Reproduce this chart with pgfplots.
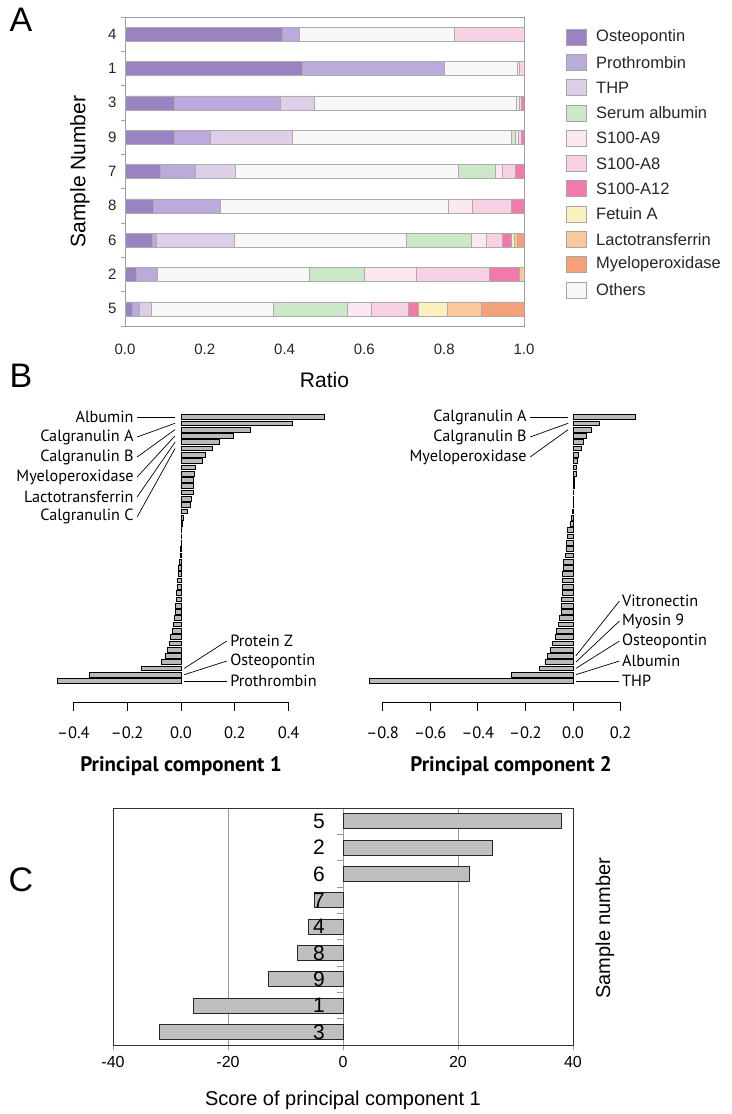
\documentclass[border=0pt]{standalone}
\usepackage{fontspec}
\setmainfont{Liberation Sans}
\newfontfamily\pts{PT Sans}
\usepackage{pgfplots}
\usepackage{pgfplotstable}
\pgfplotsset{compat=1.18}
\definecolor{cOst}{RGB}{155,130,192}
\definecolor{cPro}{RGB}{187,170,220}
\definecolor{cTHP}{RGB}{222,207,233}
\definecolor{cSA}{RGB}{205,232,200}
\definecolor{cA9}{RGB}{252,232,242}
\definecolor{cA8}{RGB}{248,210,228}
\definecolor{cA12}{RGB}{240,122,170}
\definecolor{cFet}{RGB}{251,240,190}
\definecolor{cLac}{RGB}{249,200,156}
\definecolor{cMPO}{RGB}{244,160,120}
\definecolor{cOth}{RGB}{248,248,248}

\pgfplotstableread{
y ost pro thp oth sa a9 a8 a12 fet lac mpo
0 0.017 0.019 0.031 0.304 0.186 0.061 0.092 0.025 0.072 0.086 0.107
1 0.028 0.054 0 0.381 0.136 0.130 0.185 0.073 0 0.013 0
2 0.068 0.011 0.195 0.430 0.164 0.038 0.040 0.022 0.007 0.007 0.018
3 0.071 0.167 0 0.572 0 0.061 0.097 0.032 0 0 0
4 0.088 0.089 0.100 0.558 0.093 0.018 0.031 0.023 0 0 0
5 0.124 0.089 0.207 0.547 0.010 0.008 0.008 0.007 0 0 0
6 0.124 0.264 0.086 0.507 0 0.006 0.007 0.006 0 0 0
7 0.445 0.355 0 0.182 0 0.005 0.013 0 0 0 0
8 0.394 0.043 0 0.389 0 0 0.174 0 0 0 0
}\dataA

\pgfplotstableread{
r pc1 pc2
1 0.533 0.263
2 0.413 0.111
3 0.258 0.076
4 0.196 0.057
5 0.144 0.043
6 0.118 0.036
7 0.091 0.022
8 0.080 0.018
9 0.054 0.015
10 0.048 0.015
11 0.046 0.006
12 0.045 0.004
13 0.045 0.003
14 0.039 0.002
15 0.035 0.001
16 0.023 -0.001
17 0.009 -0.006
18 0.005 -0.013
19 0.003 -0.024
20 0.002 -0.024
21 0.001 -0.027
22 -0.002 -0.030
23 -0.004 -0.032
24 -0.006 -0.041
25 -0.008 -0.042
26 -0.010 -0.043
27 -0.012 -0.043
28 -0.014 -0.045
29 -0.016 -0.046
30 -0.018 -0.047
31 -0.020 -0.048
32 -0.022 -0.050
33 -0.025 -0.057
34 -0.030 -0.062
35 -0.033 -0.068
36 -0.038 -0.076
37 -0.045 -0.085
38 -0.052 -0.095
39 -0.060 -0.109
40 -0.072 -0.118
41 -0.149 -0.142
42 -0.340 -0.259
43 -0.459 -0.857
}\dataB

\pgfplotstableread{
y s
0 -32
1 -26
2 -13
3 -8
4 -6
5 -5
6 22
7 26
8 38
}\dataC

\begin{document}
\begin{tikzpicture}
\useasboundingbox (0,0) rectangle (732bp,1114bp);

% ---------------- Panel A ----------------
\node[font=\fontsize{34bp}{36bp}\selectfont] at (21bp,1094bp) {A};
\begin{axis}[
  at={(125bp,788bp)}, anchor=south west, scale only axis,
  width=399bp, height=309bp,
  xbar stacked, bar width=14bp,
  xmin=0, xmax=1, ymin=-0.5, ymax=8.5,
  xtick={0,0.2,0.4,0.6,0.8,1},
  xticklabels={0.0,0.2,0.4,0.6,0.8,1.0},
  ytick={0,1,2,3,4,5,6,7,8},
  yticklabels={5,2,6,8,7,9,3,1,4},
  minor ytick={-0.5,0.5,1.5,2.5,3.5,4.5,5.5,6.5,7.5,8.5},
  major tick length=0pt, minor tick length=4bp,
  tick align=outside, xtick pos=bottom, ytick pos=left,
  axis line style={gray!75, line width=0.8bp},
  every minor tick/.style={gray!75, line width=0.8bp},
  ticklabel style={font=\fontsize{15bp}{17bp}\selectfont, text=black!85},
  xticklabel style={yshift=-15bp},
  yticklabel style={xshift=-5bp},
  xlabel={Ratio}, ylabel={Sample Number},
  label style={font=\fontsize{21bp}{24bp}\selectfont},
  x label style={at={(axis description cs:0.5,-0.175)}, anchor=center},
  y label style={at={(axis description cs:-0.113,0.5)}, anchor=center},
  every axis plot/.append style={draw=gray!65, line width=0.5bp},
]
\addplot[fill=cOst] table[x=ost,y=y]{\dataA};
\addplot[fill=cPro] table[x=pro,y=y]{\dataA};
\addplot[fill=cTHP] table[x=thp,y=y]{\dataA};
\addplot[fill=cOth] table[x=oth,y=y]{\dataA};
\addplot[fill=cSA] table[x=sa,y=y]{\dataA};
\addplot[fill=cA9] table[x=a9,y=y]{\dataA};
\addplot[fill=cA8] table[x=a8,y=y]{\dataA};
\addplot[fill=cA12] table[x=a12,y=y]{\dataA};
\addplot[fill=cFet] table[x=fet,y=y]{\dataA};
\addplot[fill=cLac] table[x=lac,y=y]{\dataA};
\addplot[fill=cMPO] table[x=mpo,y=y]{\dataA};
\end{axis}
% legend
\foreach \c/\t [count=\i from 0] in {cOst/Osteopontin,cPro/Prothrombin,cTHP/THP,cSA/Serum albumin,cA9/S100-A9,cA8/S100-A8,cA12/S100-A12,cFet/Fetuin A,cLac/Lactotransferrin,cMPO/Myeloperoxidase,cOth/Others}{
  \pgfmathsetmacro\yy{1077-25.3*\i}
  \draw[gray!70, line width=0.6bp, fill=\c] (566bp,\yy bp-8bp) rectangle ++(20bp,16bp);
  \node[anchor=west, inner sep=0pt, font=\fontsize{16.5bp}{18bp}\selectfont, text=black!85] at (596bp,\yy bp) {\t};
}

% ---------------- Panel B ----------------
\node[font=\fontsize{34bp}{36bp}\selectfont] at (21bp,738bp) {B};
\begin{axis}[
  at={(73.4bp,412bp)}, anchor=south west, scale only axis,
  width=215.2bp, height=285bp,
  xmin=-0.4, xmax=0.4, ymin=-2.34, ymax=43,
  axis x line=bottom, axis y line=none,
  axis line style={-, line width=0.8bp},
  xbar, bar width=4.6bp, clip=false,
  xtick={-0.4,-0.2,0,0.2,0.4},
  xticklabels={–0.4,–0.2,0.0,0.2,0.4},
  tick align=outside, major tick length=9bp,
  every tick/.style={black, line width=0.8bp},
  ticklabel style={font=\pts\fontsize{16.5bp}{18bp}\selectfont},
  xticklabel style={yshift=-12bp},
  xlabel={Principal component 1},
  x label style={font=\pts\bfseries\fontsize{21bp}{24bp}\selectfont, at={(axis description cs:0.5,-0.2246)}, anchor=center},
]
\addplot[fill=gray!55, draw=black, line width=0.7bp] table[x=pc1, y expr=44-\thisrow{r}]{\dataB};
\begin{scope}[line width=0.7bp, every node/.style={font=\pts\fontsize{16.2bp}{18bp}\selectfont, inner sep=0pt}]
\draw (axis cs:-0.163,43) -- (axis cs:-0.022,43);
\node[anchor=east] at (axis cs:-0.175,43) {Albumin};
\draw (axis cs:-0.163,39.82) -- (axis cs:-0.022,42);
\node[anchor=east] at (axis cs:-0.175,39.82) {Calgranulin A};
\draw (axis cs:-0.163,36.64) -- (axis cs:-0.022,41);
\node[anchor=east] at (axis cs:-0.175,36.64) {Calgranulin B};
\draw (axis cs:-0.163,33.46) -- (axis cs:-0.022,40);
\node[anchor=east] at (axis cs:-0.175,33.46) {Myeloperoxidase};
\draw (axis cs:-0.163,30.28) -- (axis cs:-0.022,39);
\node[anchor=east] at (axis cs:-0.175,30.28) {Lactotransferrin};
\draw (axis cs:-0.163,27.10) -- (axis cs:-0.022,38);
\node[anchor=east] at (axis cs:-0.175,27.10) {Calgranulin C};
\draw (axis cs:0.012,3) -- (axis cs:0.17,7.36);
\node[anchor=west] at (axis cs:0.182,7.36) {Protein Z};
\draw (axis cs:0.012,2) -- (axis cs:0.17,4.18);
\node[anchor=west] at (axis cs:0.182,4.18) {Osteopontin};
\draw (axis cs:0.012,1) -- (axis cs:0.17,1);
\node[anchor=west] at (axis cs:0.182,1) {Prothrombin};
\end{scope}
\end{axis}

\begin{axis}[
  at={(382.6bp,412bp)}, anchor=south west, scale only axis,
  width=238bp, height=285bp,
  xmin=-0.8, xmax=0.2, ymin=-2.34, ymax=43,
  axis x line=bottom, axis y line=none,
  axis line style={-, line width=0.8bp},
  xbar, bar width=4.6bp, clip=false,
  xtick={-0.8,-0.6,-0.4,-0.2,0,0.2},
  xticklabels={–0.8,–0.6,–0.4,–0.2,0.0,0.2},
  tick align=outside, major tick length=9bp,
  every tick/.style={black, line width=0.8bp},
  ticklabel style={font=\pts\fontsize{16.5bp}{18bp}\selectfont},
  xticklabel style={yshift=-12bp},
  xlabel={Principal component 2},
  x label style={font=\pts\bfseries\fontsize{21bp}{24bp}\selectfont, at={(axis description cs:0.54,-0.2246)}, anchor=center},
]
\addplot[fill=gray!55, draw=black, line width=0.7bp] table[x=pc2, y expr=44-\thisrow{r}]{\dataB};
\begin{scope}[line width=0.7bp, every node/.style={font=\pts\fontsize{16.2bp}{18bp}\selectfont, inner sep=0pt}]
\draw (axis cs:-0.18,43) -- (axis cs:-0.02,43);
\node[anchor=east] at (axis cs:-0.193,43) {Calgranulin A};
\draw (axis cs:-0.18,39.82) -- (axis cs:-0.02,42);
\node[anchor=east] at (axis cs:-0.193,39.82) {Calgranulin B};
\draw (axis cs:-0.18,36.64) -- (axis cs:-0.02,41);
\node[anchor=east] at (axis cs:-0.193,36.64) {Myeloperoxidase};
\draw (axis cs:0.012,5) -- (axis cs:0.195,13.72);
\node[anchor=west] at (axis cs:0.205,13.72) {Vitronectin};
\draw (axis cs:0.012,4) -- (axis cs:0.195,10.54);
\node[anchor=west] at (axis cs:0.205,10.54) {Myosin 9};
\draw (axis cs:0.012,3) -- (axis cs:0.195,7.36);
\node[anchor=west] at (axis cs:0.205,7.36) {Osteopontin};
\draw (axis cs:0.012,2) -- (axis cs:0.195,4.18);
\node[anchor=west] at (axis cs:0.205,4.18) {Albumin};
\draw (axis cs:0.012,1) -- (axis cs:0.195,1);
\node[anchor=west] at (axis cs:0.205,1) {THP};
\end{scope}
\end{axis}

% ---------------- Panel C ----------------
\node[font=\fontsize{34bp}{36bp}\selectfont] at (21bp,234bp) {C};
\begin{axis}[
  at={(113bp,69bp)}, anchor=south west, scale only axis,
  width=460bp, height=237bp,
  xbar, bar width=15bp,
  xmin=-40, xmax=40, ymin=-0.5, ymax=8.5,
  xtick={-40,-20,0,20,40},
  xticklabels={-40,-20,0,20,40},
  xmajorgrids, grid style={gray!80, line width=0.9bp},
  ytick=\empty,
  xtick pos=bottom, tick align=outside, major tick length=5bp,
  xtick style={gray!80, line width=0.9bp},
  axis line style={black!80, line width=0.9bp},
  ticklabel style={font=\fontsize{16bp}{18bp}\selectfont},
  xticklabel style={yshift=-3bp},
  xlabel={Score of principal component 1},
  x label style={font=\fontsize{20bp}{22bp}\selectfont, at={(axis description cs:0.5,-0.232)}, anchor=center},
  clip=false,
]
\addplot[fill=gray!50, draw=black!85, line width=0.9bp] table[x=s,y=y]{\dataC};
\pgfplotsinvokeforeach{0,...,7}{
  \draw[gray!80, line width=0.8bp] (axis cs:0,#1+0.5) -- ++(-6bp,0pt);
}
\end{axis}
% overlay axis carrying the sample-number tick labels on top of the bars
\begin{axis}[
  at={(113bp,69bp)}, anchor=south west, scale only axis,
  width=460bp, height=237bp,
  xmin=-40, xmax=40, ymin=-0.5, ymax=8.5,
  xtick=\empty, axis line style={draw=none},
  ytick={0,1,2,3,4,5,6,7,8},
  yticklabels={3,1,9,8,4,7,6,2,5},
  ytick style={draw=none}, ytick pos=left,
  yticklabel style={font=\fontsize{21bp}{23bp}\selectfont, anchor=east, inner sep=0pt, xshift=212bp},
]
\end{axis}
\node[rotate=90, font=\fontsize{20bp}{22bp}\selectfont] at (605bp,186bp) {Sample number};
\end{tikzpicture}
\end{document}
